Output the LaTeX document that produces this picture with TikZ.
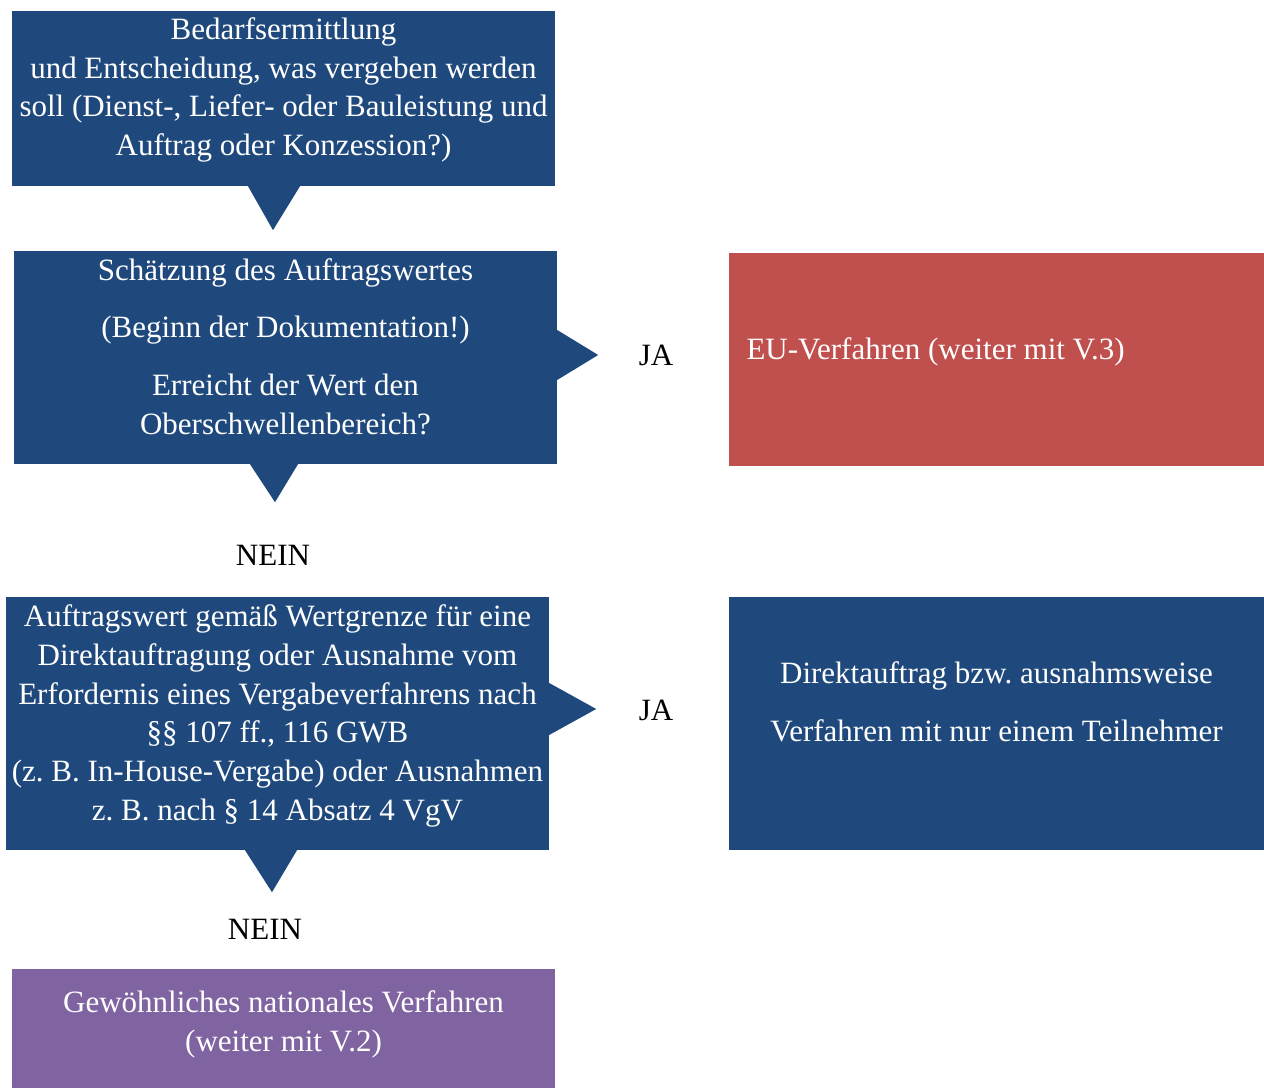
\documentclass[tikz,border=0pt]{standalone}
\usepackage{fontspec}
\setmainfont{Liberation Serif}
\usepackage{xcolor}
\usepackage{tikz}
\frenchspacing

\definecolor{stepblue}{HTML}{1F497D}
\definecolor{stepred}{HTML}{C0504D}
\definecolor{steppurple}{HTML}{8064A2}

\begin{document}
\begin{tikzpicture}[x=1pt, y=1pt,
  stepbox/.style={inner sep=0, minimum width=543, minimum height=#1},
  boxtext/.style={text=white, align=center, font=\labelfontsize},
  answer/.style={anchor=base, font=\labelfontsize}]
\def\boxcolor{stepblue}
\def\labelfontsize{\fontsize{31}{38.7}\selectfont}
\useasboundingbox (0,0) rectangle (1264,1088);

% FIRST BOX
\node[stepbox=175, fill=\boxcolor] (bedarf) at (283.5, 989.5) {};
\fill[\boxcolor] ([xshift=-35.5]bedarf.south) -- ([xshift=16.5]bedarf.south) -- ([xshift=-10.5, yshift=-44]bedarf.south) -- cycle;
\node[boxtext] (bedarf-t) at (283.5, 998) {Bedarfsermittlung\\ und Entscheidung, was vergeben werden\\ soll (Dienst-, Liefer- oder Bauleistung und\\ Auftrag oder Konzession?)};

% SECOND BOX
\node[stepbox=213, fill=\boxcolor] (schaetz) at (285.5, 730.5) {};
\fill[\boxcolor] ([xshift=-35.5]schaetz.south) -- ([xshift=12.5]schaetz.south) -- ([xshift=-10.5, yshift=-38]schaetz.south) -- cycle;
\fill[\boxcolor] ([yshift=27.5]schaetz.east) -- ([yshift=-22.5]schaetz.east) -- ([xshift=41, yshift=2.5]schaetz.east) -- cycle;
\node[boxtext] (schaetz-t) at (285.5, 741.5) {Schätzung des Auftragswertes\\[19pt] (Beginn der Dokumentation!)\\[19pt] Erreicht der Wert den\\ Oberschwellenbereich?};

\node[answer] (ja1) at (656, 722) {JA};
\node[stepbox=213, minimum width=535, fill=stepred] (euverf) at (996.5, 728.5) {};
\node[anchor=base west, text=white, font=\labelfontsize] (euverf-t) at (743, 728) {EU-Verfahren (weiter mit V.3)};

\node[answer] (nein1) at (273, 522) {NEIN};

% THIRD BOX
\node[stepbox=253, fill=\boxcolor] (ausnahme) at (277.5, 364.5) {};
\fill[\boxcolor] ([xshift=-32.5]ausnahme.south) -- ([xshift=19.5]ausnahme.south) -- ([xshift=-5.5, yshift=-42]ausnahme.south) -- cycle;
\fill[\boxcolor] ([yshift=40.5]ausnahme.east) -- ([yshift=-11.5]ausnahme.east) -- ([xshift=47, yshift=14.5]ausnahme.east) -- cycle;
\node[boxtext] (ausnahme-t) at (277.5, 372) {Auftragswert gemäß Wertgrenze für eine\\ Direktauftragung oder Ausnahme vom\\ Erfordernis eines Vergabeverfahrens nach\\ §§ 107 ff., 116 GWB\\ (z. B. In-House-Vergabe) oder Ausnahmen\\ z. B. nach § 14 Absatz 4 VgV};

\node[answer] (ja2) at (656, 367) {JA};
\node[stepbox=253, minimum width=535, fill=\boxcolor] (direkt) at (996.5, 364.5) {};
\node[boxtext] (direkt-t) at (996.5, 386) {Direktauftrag bzw. ausnahmsweise\\[19pt] Verfahren mit nur einem Teilnehmer};

\node[answer] (nein2) at (265, 149) {NEIN};

% LAST BOX
\node[stepbox=119, fill=steppurple] (national) at (283.5, 59.5) {};
\node[boxtext] (national-t) at (283.5, 63.5) {Gewöhnliches nationales Verfahren\\ (weiter mit V.2)};
\end{tikzpicture}
\end{document}
